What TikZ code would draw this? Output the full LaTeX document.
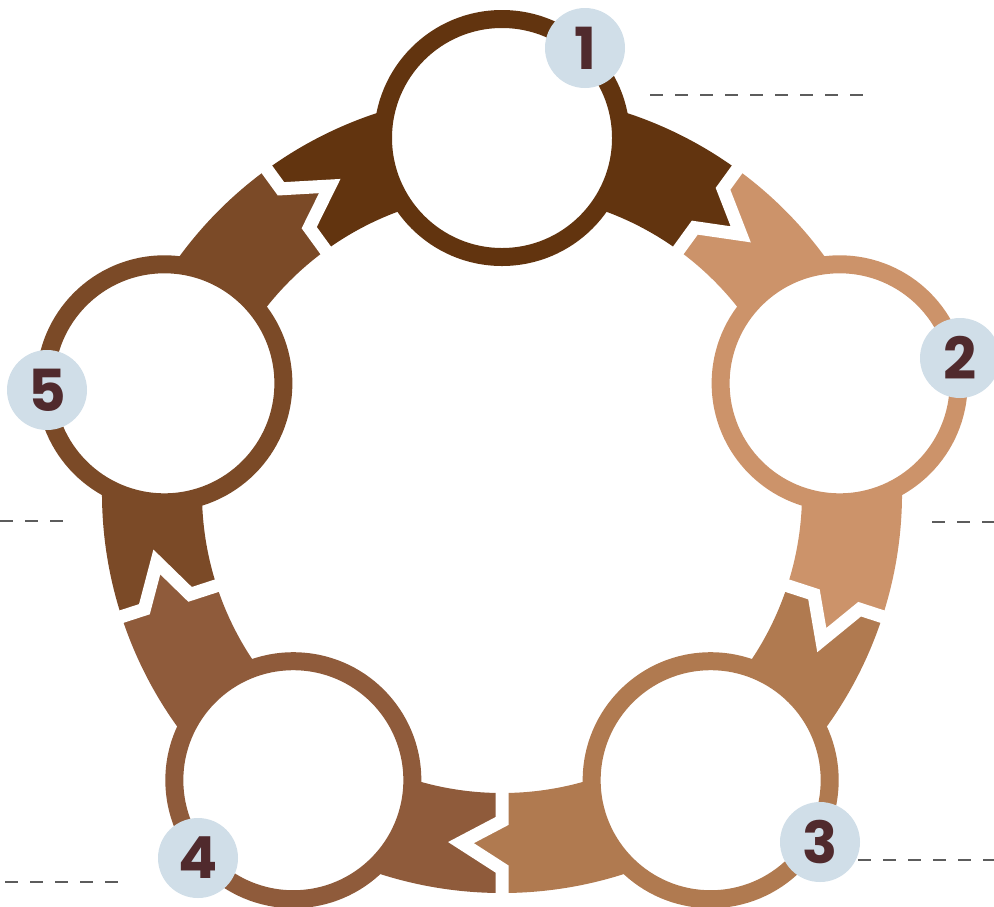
\documentclass[tikz,border=0pt]{standalone}
\usepackage{fontspec}
\newfontfamily\badgefont{Poppins}
\definecolor{cA}{HTML}{62340F}
\definecolor{cB}{HTML}{CC936A}
\definecolor{cC}{HTML}{B07A50}
\definecolor{cD}{HTML}{8F5B3B}
\definecolor{cE}{HTML}{7B4A27}
\definecolor{badgec}{HTML}{D0DEE8}
\definecolor{digitc}{HTML}{502A2D}
\definecolor{dashc}{HTML}{5C5C5C}
\newcommand\tipang{6.7}
\newcommand\ringpiece[3]{%
  \fill[#1] (#2:400) arc[start angle=#2, end angle=#3, radius=400]
    -- (#3:376) -- ({#3-\tipang}:352) -- (#3:328) -- (#3:300)
    arc[start angle=#3, end angle=#2, radius=300]
    -- (#2:328) -- ({#2-\tipang}:352) -- (#2:376) -- cycle;}
\newcommand\junction[1]{%
  \draw[gapline] (#1:406) -- (#1:376) -- ({#1-\tipang}:352) -- (#1:328) -- (#1:294);}
\tikzset{
  gapline/.style={white, line width=6.5pt, line join=miter, line cap=butt},
  stagecircle/.style={circle, draw=#1, line width=9pt, fill=white, minimum size=119pt, inner sep=0pt},
  badge/.style={circle, fill=badgec, minimum size=40pt, inner sep=0pt, text=digitc,
    font=\badgefont\bfseries\fontsize{29}{29}\selectfont},
  guide/.style={dashc, line width=1pt, dash pattern=on 6.5pt off 6pt}
}
\begin{document}
\begin{tikzpicture}[x=0.5pt,y=-0.5pt]
\clip (0,0) rectangle (994,906);
\begin{scope}[shift={(502,493)}, yscale=-1]
  \ringpiece{cA}{126}{54}
  \ringpiece{cB}{54}{-18}
  \ringpiece{cC}{-18}{-90}
  \ringpiece{cD}{-90}{-162}
  \ringpiece{cE}{198}{126}
  \junction{126}
  \junction{54}
  \junction{-18}
  \junction{-90}
  \junction{-162}
  \node[stagecircle=cA] (c1) at (90:355) {};
  \node[stagecircle=cB] (c2) at (18:355) {};
  \node[stagecircle=cC] (c3) at (-54:355) {};
  \node[stagecircle=cD] (c4) at (-126:355) {};
  \node[stagecircle=cE] (c5) at (162:355) {};
\end{scope}
\node[badge] (b1) at (585,48) {1};
\node[badge] (b2) at (960,358) {2};
\node[badge] (b3) at (820,842) {3};
\node[badge] (b4) at (198,858) {4};
\node[badge] (b5) at (47,390) {5};
\coordinate (g1a) at (650,95);  \coordinate (g1b) at (868,95);
\coordinate (g2a) at (932,522); \coordinate (g2b) at (996,522);
\coordinate (g3a) at (858,860); \coordinate (g3b) at (996,860);
\coordinate (g4a) at (5,882);   \coordinate (g4b) at (119,882);
\coordinate (g5a) at (0,521);   \coordinate (g5b) at (63,521);
\draw[guide] (g1a) -- (g1b);
\draw[guide] (g2a) -- (g2b);
\draw[guide] (g3a) -- (g3b);
\draw[guide] (g4a) -- (g4b);
\draw[guide] (g5a) -- (g5b);
\end{tikzpicture}
\end{document}
